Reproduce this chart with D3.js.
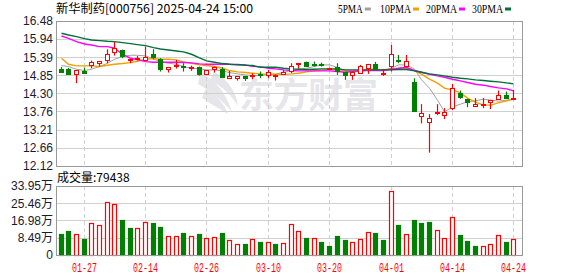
<!DOCTYPE html>
<html>
<head>
<meta charset="utf-8">
<script src="https://d3js.org/d3.v7.min.js"></script>
<style>
  body { margin: 0; background: #fff; }
  svg { display: block; }
</style>
</head>
<body>
<svg id="chart"></svg>
<script>
// trading days shown (60 bars)
var dates = ["01-22","01-23","01-24","01-27","02-05","02-06","02-07","02-10","02-11","02-12",
  "02-13","02-14","02-17","02-18","02-19","02-20","02-21","02-24","02-25","02-26",
  "02-27","02-28","03-03","03-04","03-05","03-06","03-07","03-10","03-11","03-12",
  "03-13","03-14","03-17","03-18","03-19","03-20","03-21","03-24","03-25","03-26",
  "03-27","03-28","03-31","04-01","04-02","04-03","04-07","04-08","04-09","04-10",
  "04-11","04-14","04-15","04-16","04-17","04-18","04-21","04-22","04-23","04-24"];

var opens = [15.04,15.04,14.88,14.98,15.14,15.22,15.30,15.57,15.61,15.31,
  15.35,15.31,15.49,15.33,15.03,15.13,15.13,15.09,15.09,14.88,
  15.04,15.05,14.78,14.78,14.83,14.85,14.89,14.88,14.85,14.89,
  14.99,15.18,15.26,15.19,15.18,15.04,15.11,14.96,14.86,14.93,
  15.06,15.19,14.90,15.11,15.32,15.14,14.66,13.63,13.43,13.72,
  13.65,13.87,14.32,14.14,13.92,13.97,14.04,14.13,14.26,14.14];
var highs = [15.10,15.07,15.01,15.08,15.29,15.27,15.63,15.86,15.62,15.34,
  15.43,15.71,15.63,15.36,15.09,15.31,15.21,15.14,15.11,15.01,
  15.11,15.09,14.98,14.83,14.83,14.91,14.96,15.01,14.88,15.01,
  15.21,15.21,15.26,15.26,15.23,15.08,15.21,14.96,14.96,15.16,
  15.19,15.25,15.04,15.76,15.46,15.46,14.76,13.98,13.68,13.98,
  13.86,14.59,14.39,14.14,14.16,14.16,14.11,14.39,14.36,14.41];
var lows = [14.93,14.86,14.61,14.91,15.06,15.11,15.21,15.44,15.36,15.21,
  15.29,15.30,15.33,14.96,14.93,15.05,14.96,14.98,14.84,14.88,
  14.93,14.79,14.78,14.69,14.68,14.73,14.76,14.76,14.69,14.86,
  14.91,15.04,15.14,15.11,15.11,15.03,14.86,14.71,14.71,14.93,
  14.89,15.04,14.83,14.96,15.21,15.14,13.78,13.40,12.52,13.65,
  13.53,13.80,14.14,13.89,13.92,13.86,13.83,14.13,14.17,14.14];
var closes = [14.96,14.88,15.01,14.93,15.24,15.27,15.48,15.68,15.43,15.34,
  15.37,15.41,15.39,15.03,15.09,15.15,15.09,15.11,14.88,15.01,
  15.11,14.81,14.83,14.83,14.76,14.86,14.86,14.96,14.86,14.96,
  15.13,15.21,15.14,15.17,15.14,15.08,14.99,14.86,14.96,15.13,
  15.19,15.04,14.91,15.48,15.30,15.29,13.78,13.71,13.56,13.74,
  13.73,14.46,14.20,14.05,13.98,13.98,14.11,14.26,14.17,14.17];

var ma5 = [15.14,15.11,15.03,14.99,15.03,15.11,15.21,15.33,15.41,15.45,
  15.45,15.43,15.34,15.26,15.21,15.18,15.11,15.06,15.04,15.01,
  15.01,14.98,14.93,14.89,14.86,14.84,14.84,14.88,14.88,14.94,
  14.99,15.03,15.06,15.11,15.16,15.16,15.08,14.98,14.96,14.96,
  15.01,15.01,15.01,15.06,15.16,15.16,15.03,14.71,14.46,14.10,
  13.75,13.89,13.98,14.05,14.08,14.13,14.10,14.07,14.10,14.13];
var ma10 = [15.36,15.18,15.13,15.13,15.13,15.11,15.15,15.18,15.20,15.23,
  15.27,15.33,15.35,15.33,15.33,15.31,15.25,15.21,15.16,15.14,
  15.11,15.06,14.99,14.95,14.93,14.91,14.89,14.88,14.88,14.88,
  14.89,14.91,14.95,14.98,15.00,15.03,15.01,14.99,14.98,14.99,
  15.03,15.03,15.01,15.04,15.05,15.08,14.99,14.88,14.73,14.61,
  14.46,14.41,14.32,14.16,14.04,13.95,13.95,14.02,14.08,14.13];
var ma20 = [16.03,15.96,15.86,15.79,15.76,15.71,15.71,15.66,15.48,15.36,
  15.32,15.26,15.24,15.24,15.24,15.24,15.23,15.22,15.19,15.18,
  15.18,15.18,15.18,15.16,15.16,15.12,15.10,15.06,15.04,15.01,
  14.99,14.98,14.98,14.98,14.98,14.98,14.96,14.94,14.96,14.98,
  14.99,14.99,14.99,15.03,15.06,15.08,14.99,14.94,14.88,14.83,
  14.79,14.73,14.68,14.63,14.58,14.55,14.51,14.47,14.44,14.38];
var ma30 = [16.11,16.06,16.01,15.95,15.91,15.89,15.87,15.86,15.83,15.80,
  15.77,15.74,15.68,15.64,15.61,15.58,15.55,15.48,15.37,15.28,
  15.24,15.20,15.18,15.17,15.15,15.14,15.09,15.09,15.09,15.06,
  15.04,15.03,15.02,15.03,15.04,15.04,15.04,15.01,15.01,15.01,
  15.01,15.01,15.01,15.01,15.02,15.02,14.98,14.94,14.89,14.86,
  14.83,14.79,14.76,14.74,14.71,14.69,14.67,14.65,14.62,14.59];

// volume in 万 shares, and whether the day closed up (red) or down (green)
var volumes = [10.3,11.8,10.3,7.9,15.7,14.8,26.1,25.2,17.2,13.4,
  13.3,16.2,15.9,13.9,9.3,9.3,11.0,9.3,10.5,8.4,
  8.9,11.0,7.4,5.4,5.6,7.9,6.6,6.4,5.6,5.9,
  15.2,11.8,8.5,8.2,6.4,4.4,9.3,7.4,6.2,7.7,
  11.3,10.8,7.4,31.3,14.8,10.2,17.2,15.9,16.2,12.1,
  8.2,18.5,9.8,6.9,4.4,4.4,5.2,9.7,6.4,7.94];
var volUp = [0,0,1,0,1,1,1,1,0,0, 1,1,0,0,1,1,0,1,0,1,
  1,0,1,1,0,1,0,1,0,1, 1,1,0,1,0,0,0,0,1,1,
  1,0,0,1,0,1,0,0,0,1, 1,1,0,0,0,1,1,1,0,1];

var priceTicks = [16.48,15.94,15.39,14.85,14.30,13.76,13.21,12.66,12.12];
var volTicks = [0,8.49,16.98,25.46,33.95];
var volTickLabels = ["0","8.49万","16.98万","25.46万","33.95万"];
var dateTicks = ["01-27","02-14","02-26","03-10","03-20","04-01","04-14","04-24"];

var maNames = ["5PMA","10PMA","20PMA","30PMA"];
var maColors = ["#a0a0a0","#f0a000","#ff00ff","#00703a"];
var lastVolume = "79438";

var width = 578, height = 276;
var left = 56, right = 522;
var priceTop = 21, priceBottom = 166;
var volTop = 186, volBottom = 255;
var red = "#ff0000", green = "#008000";
var cjk = "'Noto Sans CJK SC', sans-serif";
var num = "'Liberation Sans', 'Noto Sans CJK SC', sans-serif";

var svg = d3.select("#chart").attr("width", width).attr("height", height);

var x = d3.scaleBand().domain(dates).range([56.7, 517.2]);
var cx = function (d) { return Math.round(x(d) + x.bandwidth() / 2); };
var y = d3.scaleLinear().domain([12.12, 16.48]).range([priceBottom, priceTop]);
var yv = d3.scaleLinear().domain([0, 33.95]).range([volBottom, volTop]);

// watermark
var wm = svg.append("g").attr("fill", "#e6e6ea");
wm.append("path").attr("d", "M200,74 C214,78 226,92 232,112 C222,100 210,90 198,84 Z");
wm.append("path").attr("d", "M206,88 C216,94 224,104 228,114 C218,108 208,102 202,98 Z");
wm.append("path").attr("d", "M214,72 C226,78 236,90 238,106 C232,96 222,86 210,80 Z");
wm.append("text").attr("x", 239).attr("y", 108)
  .attr("font-family", cjk).attr("font-size", 35).attr("font-weight", 700)
  .attr("textLength", 139)
  .text("东方财富");

// grid lines for one panel
function panelGrid(top, bottom, scale, ticks) {
  svg.append("g").selectAll("line").data(ticks).enter().append("line")
    .attr("x1", left).attr("x2", right)
    .attr("y1", function (d) { return Math.round(scale(d)) + 0.5; })
    .attr("y2", function (d) { return Math.round(scale(d)) + 0.5; })
    .attr("stroke", "#d0d0d0");
  svg.append("g").selectAll("line").data(dateTicks).enter().append("line")
    .attr("x1", function (d) { return cx(d) + 0.5; })
    .attr("x2", function (d) { return cx(d) + 0.5; })
    .attr("y1", top).attr("y2", bottom)
    .attr("stroke", "#cfcfcf").attr("stroke-dasharray", "4,3");
}
panelGrid(priceTop, priceBottom, y, priceTicks);
panelGrid(volTop, volBottom, yv, volTicks);

// moving averages
var maData = [ma5, ma10, ma20, ma30];
maData.forEach(function (arr, k) {
  var line = d3.line()
    .x(function (d, i) { return cx(dates[i]) + 0.5; })
    .y(function (d) { return y(d); });
  svg.append("path").datum(arr)
    .attr("d", line)
    .attr("fill", "none")
    .attr("stroke", maColors[k])
    .attr("stroke-width", k === 0 ? 1 : 1.4);
});

// candles
var candles = svg.append("g").selectAll("g").data(dates).enter().append("g");
candles.append("line")
  .attr("x1", function (d) { return cx(d) + 0.5; })
  .attr("x2", function (d) { return cx(d) + 0.5; })
  .attr("y1", function (d, i) { return y(highs[i]); })
  .attr("y2", function (d, i) { return y(lows[i]); })
  .attr("stroke", function (d, i) { return closes[i] >= opens[i] ? red : green; })
  .attr("stroke-width", 1.2);
candles.append("rect")
  .attr("x", function (d) { return cx(d) - 1.5; })
  .attr("width", 4)
  .attr("y", function (d, i) { return Math.round(y(Math.max(opens[i], closes[i]))) + 0.5; })
  .attr("height", function (d, i) {
    return Math.max(1, Math.round(Math.abs(y(opens[i]) - y(closes[i]))));
  })
  .attr("fill", function (d, i) { return closes[i] >= opens[i] ? "#fff" : green; })
  .attr("stroke", function (d, i) { return closes[i] >= opens[i] ? red : green; })
  .attr("stroke-width", 1);

// volume bars
svg.append("g").selectAll("rect").data(dates).enter().append("rect")
  .attr("x", function (d) { return cx(d) - 1.5; })
  .attr("width", 4)
  .attr("y", function (d, i) { return Math.round(yv(volumes[i])) + 0.5; })
  .attr("height", function (d, i) { return Math.round(volBottom - yv(volumes[i])); })
  .attr("fill", function (d, i) { return volUp[i] ? "#fff" : green; })
  .attr("stroke", function (d, i) { return volUp[i] ? red : green; })
  .attr("stroke-width", 1.2);

// frames
[[priceTop, priceBottom], [volTop, volBottom]].forEach(function (p) {
  svg.append("rect").attr("x", left + 0.5).attr("y", p[0] + 0.5)
    .attr("width", right - left).attr("height", p[1] - p[0])
    .attr("fill", "none").attr("stroke", "#999");
});

// axes
var yAxis = d3.axisLeft(y).tickValues(priceTicks).tickSize(0).tickPadding(3)
  .tickFormat(d3.format(".2f"));
var gy = svg.append("g").attr("transform", "translate(" + left + ",0)").call(yAxis);
gy.select(".domain").remove();
gy.selectAll("text").attr("font-family", num).attr("font-size", 12).attr("fill", "#1a1a2e");

var vAxis = d3.axisLeft(yv).tickValues(volTicks).tickSize(0).tickPadding(3)
  .tickFormat(function (d, i) { return volTickLabels[i]; });
var gv = svg.append("g").attr("transform", "translate(" + left + ",0)").call(vAxis);
gv.select(".domain").remove();
gv.selectAll("text").attr("font-family", num).attr("font-size", 12).attr("fill", "#1a1a2e");

var xAxis = d3.axisBottom(x).tickValues(dateTicks).tickSize(0).tickPadding(8);
var gx = svg.append("g").attr("transform", "translate(0," + volBottom + ")").call(xAxis);
gx.select(".domain").remove();
gx.selectAll(".tick").attr("transform", function (d) { return "translate(" + (cx(d) + 0.5) + ",0)"; });
gx.selectAll("text").attr("font-family", "'Liberation Mono', monospace").attr("font-size", 12.5)
  .attr("fill", red).attr("textLength", 25).attr("lengthAdjust", "spacingAndGlyphs");

// title
svg.append("text").attr("x", 56).attr("y", 13)
  .attr("font-family", cjk).attr("font-size", 12).attr("fill", "#000")
  .attr("textLength", 197).attr("lengthAdjust", "spacingAndGlyphs")
  .text("新华制药[000756] 2025-04-24 15:00");

// legend
var legX = [338, 380, 426, 472];
var legend = svg.append("g").selectAll("g").data(maNames).enter().append("g")
  .attr("transform", function (d, i) { return "translate(" + legX[i] + ",0)"; });
legend.append("text").attr("y", 13)
  .attr("font-family", "'Liberation Serif', serif").attr("font-size", 13)
  .attr("textLength", function (d) { return d.length * 6.2; })
  .attr("lengthAdjust", "spacingAndGlyphs")
  .text(function (d) { return d; });
legend.append("rect")
  .attr("x", function (d) { return d.length * 6.2 + 2; })
  .attr("y", 7.5).attr("width", 6).attr("height", 3)
  .attr("fill", function (d, i) { return maColors[i]; });

// volume caption
svg.append("text").attr("x", 57).attr("y", 182)
  .attr("font-family", cjk).attr("font-size", 12).attr("fill", "#000")
  .text("成交量:" + lastVolume);
</script>
</body>
</html>
